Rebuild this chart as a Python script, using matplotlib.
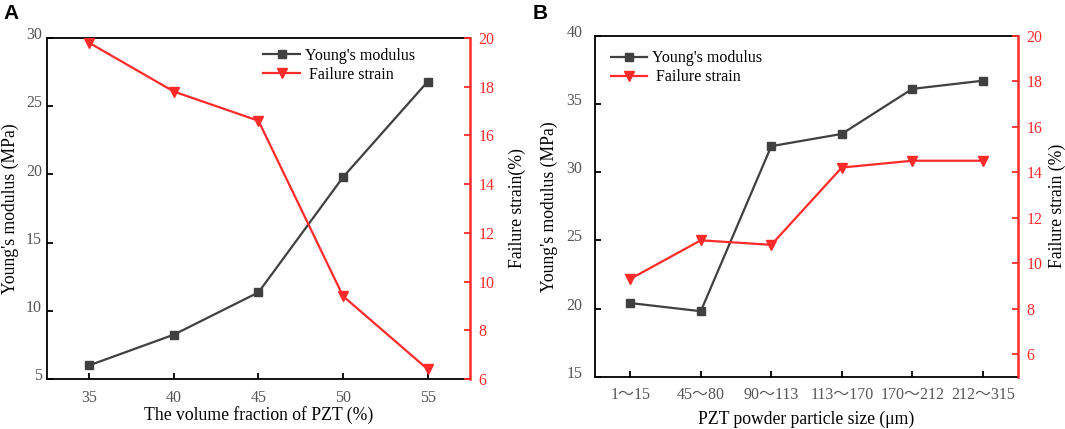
import matplotlib
matplotlib.use("Agg")
import matplotlib.pyplot as plt
from matplotlib.transforms import ScaledTranslation

plt.rcParams['font.family'] = ['Liberation Serif', 'Noto Sans CJK SC', 'DejaVu Sans']

# Panel A data
frac_x = [35, 40, 45, 50, 55]
frac_young = [6.0, 8.25, 11.35, 19.8, 26.8]
frac_strain = [19.8, 17.8, 16.6, 9.4, 6.4]

# Panel B data
size_labels = ['1～15', '45～80', '90～113', '113～170', '170～212', '212～315']
size_young = [20.4, 19.8, 31.9, 32.8, 36.1, 36.7]
size_strain = [9.3, 11.0, 10.8, 14.2, 14.5, 14.5]

GRAY = '#404040'
RED = '#ff2a2a'
TICKGRAY = '#555555'
FS = 11.5
LFS = 12.7

fig = plt.figure(figsize=(10.65, 4.29), dpi=100)


def style(ax, ax2, lpad, rpad):
    for s in ['left', 'top', 'bottom']:
        ax.spines[s].set_linewidth(1.3)
        ax.spines[s].set_color('black')
    ax.spines['right'].set_visible(False)
    for s in ['left', 'top', 'bottom']:
        ax2.spines[s].set_visible(False)
    ax2.spines['right'].set_color(RED)
    ax2.spines['right'].set_linewidth(1.8)
    ax.tick_params(axis='x', direction='in', length=4, width=1.3,
                   labelsize=FS, labelcolor=TICKGRAY, color='black', pad=7.6)
    ax.tick_params(axis='y', direction='in', length=4, width=1.3,
                   labelsize=FS, labelcolor=TICKGRAY, color='black', pad=lpad)
    ax2.tick_params(axis='y', direction='in', length=4, width=1.3,
                    labelsize=FS, labelcolor=RED, color=RED, pad=rpad)
    off = ScaledTranslation(0, 3.5 / 72, fig.dpi_scale_trans)
    for lab in ax.get_yticklabels():
        lab.set_transform(lab.get_transform() + off)


# ---------- Panel A ----------
axA = fig.add_axes([0.0441, 0.1166, 0.3972, 0.7949])
axA2 = axA.twinx()
lA1, = axA.plot(frac_x, frac_young, color=GRAY, lw=1.6, marker='s', ms=5.8,
                label="Young's modulus", zorder=3)
lA2, = axA2.plot(frac_x, frac_strain, color=RED, lw=1.6, marker='v', ms=7,
                 label=" Failure strain", zorder=3)
axA.set_xlim(32.5, 57.5)
axA.set_ylim(5, 30)
axA2.set_ylim(6, 20)
axA.set_xticks(frac_x)
axA.set_yticks([5, 10, 15, 20, 25, 30])
axA2.set_yticks([6, 8, 10, 12, 14, 16, 18, 20])
style(axA, axA2, 3.5, 6)
axA.set_xlabel('The volume fraction of PZT (%)', fontsize=LFS, labelpad=0.5)
axA.set_ylabel("Young's modulus (MPa)", fontsize=LFS, labelpad=5)
axA2.set_ylabel('Failure strain(%)', fontsize=LFS, labelpad=10)
axA.legend(handles=[lA1, lA2], loc='center left',
           bbox_to_anchor=(0.2472, 0.848), bbox_transform=fig.transFigure,
           frameon=False, fontsize=FS, handlelength=2.3, handletextpad=0.31,
           labelspacing=0.2, borderpad=0, borderaxespad=0)
fig.text(0.003, 0.99, 'A', fontsize=15, fontweight='bold',
         family='Liberation Sans', va='top', ha='left')

# ---------- Panel B ----------
axB = fig.add_axes([0.5587, 0.1219, 0.3972, 0.7949])
axB2 = axB.twinx()
xb = list(range(len(size_labels)))
lB1, = axB.plot(xb, size_young, color=GRAY, lw=1.6, marker='s', ms=5.8,
                label="Young's modulus", zorder=3)
lB2, = axB2.plot(xb, size_strain, color=RED, lw=1.6, marker='v', ms=7,
                 label=" Failure strain", zorder=3)
axB.set_xlim(-0.5, 5.5)
axB.set_ylim(15, 40)
axB2.set_ylim(5, 20)
axB.set_xticks(xb)
axB.set_xticklabels(size_labels)
axB.set_yticks([15, 20, 25, 30, 35, 40])
axB2.set_yticks([6, 8, 10, 12, 14, 16, 18, 20])
style(axB, axB2, 9, 6)
axB.set_xlabel('PZT powder particle size (μm)', fontsize=LFS, labelpad=5)
axB.set_ylabel("Young's modulus (MPa)", fontsize=LFS, labelpad=6)
axB2.set_ylabel('Failure strain (%)', fontsize=LFS, labelpad=4.5)
axB.legend(handles=[lB1, lB2], loc='center left',
           bbox_to_anchor=(0.5734, 0.842), bbox_transform=fig.transFigure,
           frameon=False, fontsize=FS, handlelength=2.3, handletextpad=0.31,
           labelspacing=0.2, borderpad=0, borderaxespad=0)
fig.text(0.5005, 0.99, 'B', fontsize=15, fontweight='bold',
         family='Liberation Sans', va='top', ha='left')

fig.savefig('out.png', dpi=100)
